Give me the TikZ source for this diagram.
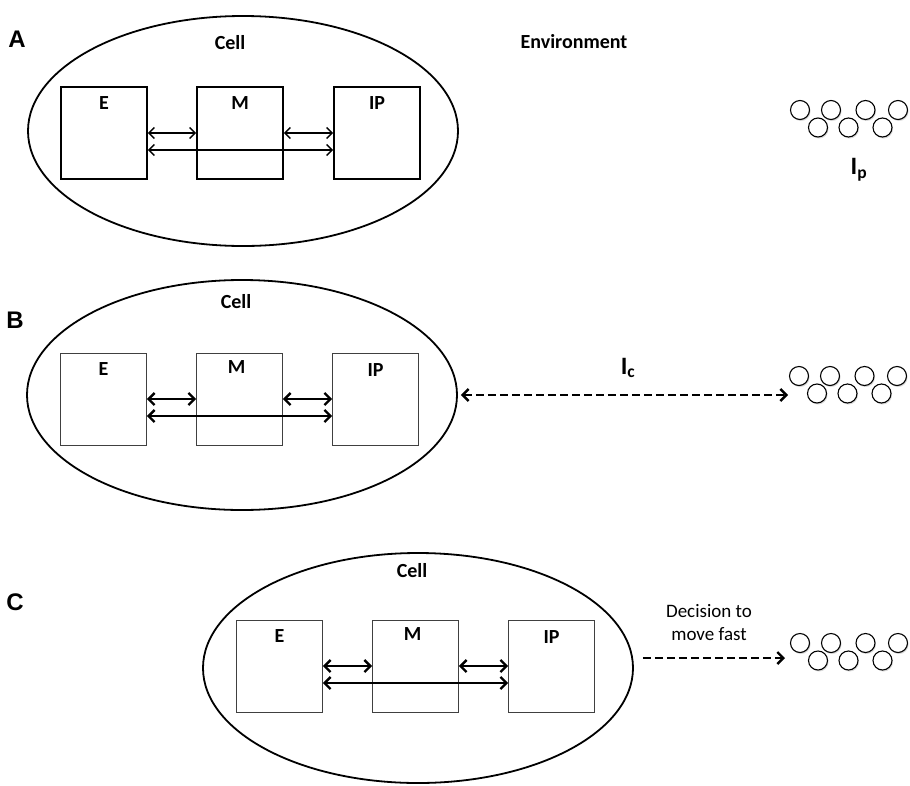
\documentclass[tikz,border=0pt]{standalone}
\usepackage{fontspec}
\setmainfont{Carlito}
\newfontfamily\panelfont{Liberation Sans}
\usetikzlibrary{arrows.meta,positioning,shapes.geometric,shadows}

\begin{document}
\begin{tikzpicture}[
  x=1pt,y=-1pt,
  cell/.style={ellipse,draw,line width=1.8pt,minimum width=430pt,
               minimum height=230pt,inner sep=0pt},
  boxA/.style={rectangle,draw,line width=1.6pt,minimum width=86pt,
               minimum height=92pt,inner sep=0pt},
  boxB/.style={rectangle,draw=black!75,line width=0.7pt,minimum width=86pt,
               minimum height=92pt,inner sep=0pt},
  tag/.style={font=\fontsize{20}{22}\selectfont\bfseries,inner sep=0pt},
  big/.style={font=\fontsize{25}{27}\selectfont\bfseries,inner sep=0pt},
  panel/.style={font=\panelfont\fontsize{24}{26}\selectfont\bfseries,inner sep=0pt},
  tipA/.tip={Straight Barb[length=5.5pt,width=11pt]},
  tipB/.tip={Straight Barb[length=6pt,width=12pt]},
  arrA/.style={tipA-tipA,line width=1.5pt},
  arrB/.style={tipB-tipB,line width=2.4pt},
  dasharr/.style={line width=2.4pt,dash pattern=on 8pt off 4pt},
  bead/.style={circle,draw,line width=1.1pt,fill=white,minimum size=19pt,inner sep=0pt,
               drop shadow={shadow xshift=1pt,shadow yshift=-1.5pt,opacity=0.3}}
]
  \useasboundingbox (0,0) rectangle (910,785);

  % Panel A
  \node[panel] (labA) at (17,39) {A};
  \node[cell] (cellA) at (243,131) {};
  \node[tag] (cellAt) at (230,43) {Cell};
  \node[tag] (envt) at (574,42) {Environment};
  \node[boxA] (eA)  at (104,133) {};
  \node[boxA] (mA)  at (240,133) {};
  \node[boxA] (ipA) at (377,133) {};
  \node[tag] (eAt)  at ([yshift=-17pt]eA.north)  {E};
  \node[tag] (mAt)  at ([yshift=-17pt]mA.north)  {M};
  \node[tag] (ipAt) at ([yshift=-17pt]ipA.north) {IP};
  \draw[arrA] (eA) -- (mA);
  \draw[arrA] (mA) -- (ipA);
  \draw[arrA] ([yshift=-17pt]eA.east) -- ([yshift=-17pt]ipA.west);
  \node[big] (ip) at (859,170) {I\textsubscript{p}};

  % Panel B
  \node[panel] (labB) at (15,320) {B};
  \node[cell] (cellB) at (242,395) {};
  \node[tag] (cellBt) at (236,302) {Cell};
  \node[boxB] (eB)  at (103.5,399) {};
  \node[boxB] (mB)  at (239.5,399) {};
  \node[boxB] (ipB) at (375.5,399) {};
  \node[tag] (eBt)  at ([yshift=-16pt]eB.north)  {E};
  \node[tag] (mBt)  at ([xshift=-3pt,yshift=-14pt]mB.north)  {M};
  \node[tag] (ipBt) at ([yshift=-17pt]ipB.north) {IP};
  \draw[arrB] (eB) -- (mB);
  \draw[arrB] (mB) -- (ipB);
  \draw[arrB] ([yshift=-17pt]eB.east) -- ([yshift=-17pt]ipB.west);
  \coordinate (envB) at (788,395);
  \draw[dasharr,tipB-tipB] ([xshift=3pt]cellB.east) -- (envB);
  \node[big] (ic) at (628,368) {I\textsubscript{c}};

  % Panel C
  \node[panel] (labC) at (15,602) {C};
  \node[cell] (cellC) at (418,668) {};
  \node[tag] (cellCt) at (412,571) {Cell};
  \node[boxB] (eC)  at (279.5,666) {};
  \node[boxB] (mC)  at (415.5,666) {};
  \node[boxB] (ipC) at (551.5,666) {};
  \node[tag] (eCt)  at ([yshift=-16pt]eC.north)  {E};
  \node[tag] (mCt)  at ([xshift=-3pt,yshift=-14pt]mC.north)  {M};
  \node[tag] (ipCt) at ([yshift=-17pt]ipC.north) {IP};
  \draw[arrB] (eC) -- (mC);
  \draw[arrB] (mC) -- (ipC);
  \draw[arrB] ([yshift=-17pt]eC.east) -- ([yshift=-17pt]ipC.west);
  \coordinate (envC) at (785,658);
  \draw[dasharr,-tipB] ([xshift=9pt,yshift=10pt]cellC.east) -- (envC);
  \node[align=center,font=\fontsize{19}{23}\selectfont] (dec) at (709,623)
       {Decision to\\move fast};

  % particle clusters
  \foreach \p/\x/\y in {A/800/110,B/799/376,C/800/643}{
    \foreach \dx [count=\i] in {0,31,65.5,98}
      \node[bead] (p\p\i) at (\x+\dx,\y) {};
    \foreach \dx [count=\i from 5] in {18,48.5,82.5}
      \node[bead] (p\p\i) at (\x+\dx,\y+17.5) {};
  }
\end{tikzpicture}
\end{document}
